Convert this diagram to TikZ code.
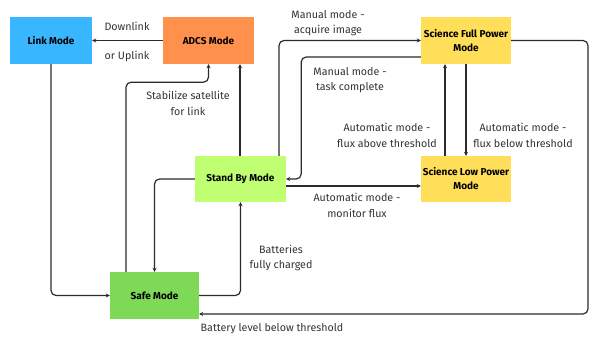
\documentclass[tikz,border=0pt]{standalone}
\usepackage{fontspec}
\setmainfont{Fira Sans}
\usetikzlibrary{arrows.meta,calc}
\definecolor{linkc}{HTML}{38B6FF}
\definecolor{adcsc}{HTML}{FF914D}
\definecolor{standc}{HTML}{C1FF72}
\definecolor{safec}{HTML}{7ED957}
\definecolor{scic}{HTML}{FFDE59}
\definecolor{linec}{HTML}{2B2B2B}
\definecolor{txtc}{HTML}{333333}
\tikzset{
  box/.style={draw=none, minimum height=47pt, inner sep=0pt, align=center,
    font=\fontsize{10}{14}\selectfont\bfseries, text=black},
  lbl/.style={align=center, inner sep=0pt, text=txtc,
    font=\fontsize{10.7}{15.5}\selectfont},
  conn/.style={draw=linec, line width=1.2pt, rounded corners=5pt,
    -{Stealth[length=4pt,width=4pt]}},
}
\begin{document}
\begin{tikzpicture}[x=1pt,y=-1pt]
\useasboundingbox (0,0) rectangle (589,337);
\node[box, fill=linkc, minimum width=82pt] (Link) at (51,40.5) {Link Mode};
\node[box, fill=adcsc, minimum width=91pt] (ADCS) at (208.5,40.5) {ADCS Mode};
\node[box, fill=scic, minimum width=90pt] (SciFull) at (466,40.5) {Science Full Power\\Mode};
\node[box, fill=standc, minimum width=91pt, minimum height=46pt] (StandBy) at (240.5,179) {Stand By Mode};
\node[box, fill=scic, minimum width=90pt, minimum height=46pt] (SciLow) at (466,179) {Science Low Power\\Mode};
\node[box, fill=safec, minimum width=89pt] (Safe) at (154.5,295.5) {Safe Mode};
\coordinate (R1) at (588,40.5);
\coordinate (R2) at (588,314);

% connectors
\draw[conn] (ADCS.west) -- (Link.east);
\draw[conn] (Link.south) |- (Safe.west);
\draw[conn] ([xshift=-28.5pt]Safe.north) |- ($(ADCS.south)+(0,18)$) -- (ADCS.south);
\draw[conn] ([xshift=-0.5pt]StandBy.north) -- ([xshift=31.5pt]ADCS.south);
\draw[conn] ([xshift=38.5pt]StandBy.north) |- (SciFull.west);
\draw[conn] ([yshift=-16.5pt]SciFull.west) -| ($(StandBy.east)+(15,0)$) -- (StandBy.east);
\draw[conn] ([yshift=-7pt]StandBy.east) -- ([yshift=-7pt]SciLow.west);
\draw[conn] ([xshift=-21pt]SciLow.north) -- ([xshift=-21pt]SciFull.south);
\draw[conn] (SciFull.south) -- (SciLow.north);
\draw[conn] (StandBy.west) -| (Safe.north);
\draw[conn] (Safe.east) -| (StandBy.south);
\draw[conn] (SciFull.east) -- (R1) -- (R2) -- ([yshift=-18.5pt]Safe.east);

% labels
\node[lbl] (l1) at (127,26) {Downlink};
\node[lbl] (l2) at (127,56) {or Uplink};
\node[lbl] (l3) at (188,103.5) {Stabilize satellite\\for link};
\node[lbl] (l4) at (328,23) {Manual mode -\\acquire image};
\node[lbl] (l5) at (350,80) {Manual mode -\\task complete};
\node[lbl] (l6) at (387,135.5) {Automatic mode -\\flux above threshold};
\node[lbl] (l7) at (523,135.5) {Automatic mode -\\flux below threshold};
\node[lbl] (l8) at (357,205.5) {Automatic mode -\\monitor flux};
\node[lbl] (l9) at (281,258) {Batteries\\fully charged};
\node[lbl] (l10) at (272,329) {Battery level below threshold};
\end{tikzpicture}
\end{document}
